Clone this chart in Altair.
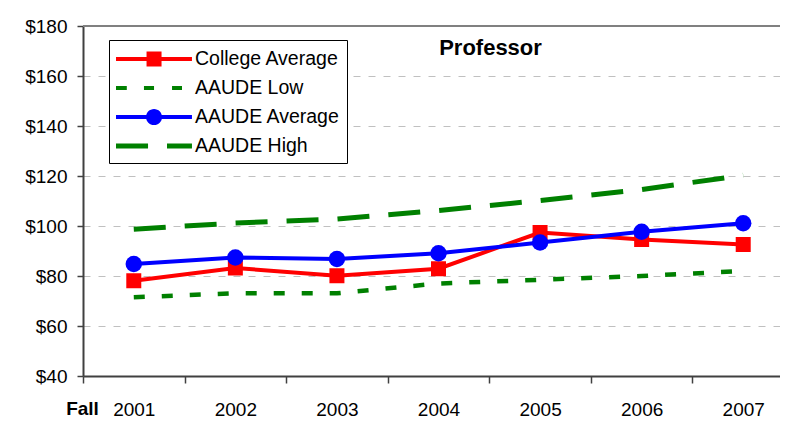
import altair as alt
import pandas as pd

years = ["2001", "2002", "2003", "2004", "2005", "2006", "2007"]
college_avg = [78.1, 83.2, 80.1, 82.9, 97.4, 94.6, 92.6]
aaude_low = [71.5, 73.1, 73.1, 77.0, 78.5, 80.0, 82.0]
aaude_avg = [84.8, 87.4, 86.8, 89.1, 93.4, 97.7, 101.1]
aaude_high = [98.7, 101.2, 102.8, 106.2, 110.2, 114.6, 120.3]

series_names = ["College Average", "AAUDE Low", "AAUDE Average", "AAUDE High"]
series_colors = ["#ff0000", "#008000", "#0000ff", "#008000"]
y_ticks = [40, 60, 80, 100, 120, 140, 160, 180]

rows = []
for name, vals in zip(series_names, [college_avg, aaude_low, aaude_avg, aaude_high]):
    for yr, v in zip(years, vals):
        rows.append({"year": yr, "series": name, "value": v})
df = pd.DataFrame(rows)

# legend glyphs (filled paths in symbol units)
legend_paths = [
    "M-1,-0.17H5.33V0.17H-1Z M1.545,-0.625H2.795V0.625H1.545Z",
    "M-1,-0.17H-0.1V0.17H-1Z M1.33,-0.17H2.17V0.17H1.33Z M3.67,-0.17H4.5V0.17H3.67Z",
    "M-1,-0.17H5.33V0.17H-1Z M2.84,0A0.67,0.67 0 1,1 1.5,0A0.67,0.67 0 1,1 2.84,0Z",
    "M-1,-0.21H1.67V0.21H-1Z M3.25,-0.21H5.33V0.21H3.25Z",
]

FONT = "Liberation Sans"

x_enc = alt.X(
    "year:N",
    scale=alt.Scale(type="band", range=[0, 711], paddingInner=0, paddingOuter=0),
    axis=alt.Axis(
        title="Fall", titleFontWeight="bold", titleFontSize=19, titleFont=FONT,
        titleX=-1, titleY=32, titleAlign="center", titleBaseline="middle", titleAngle=0,
        labelAngle=0, labelFontSize=19, labelFont=FONT, labelColor="black", labelPadding=17,
        tickBand="extent", tickSize=7, tickColor="#404040", tickWidth=1.5,
        domainColor="#404040", domainWidth=2, grid=False,
    ),
)
y_enc = alt.Y(
    "value:Q",
    scale=alt.Scale(domain=[40, 180], nice=False, zero=False),
    axis=alt.Axis(
        values=y_ticks, labelExpr="'$' + datum.value", title=None,
        labelFontSize=19, labelFont=FONT, labelColor="black", labelPadding=10,
        tickSize=6, tickColor="#404040", tickWidth=1.5,
        domainColor="#404040", domainWidth=2,
        grid=True, gridColor="#c0c0c0", gridDash=[7, 8], gridWidth=1,
    ),
)

base = alt.Chart(df)

top_rule = base.mark_rule(color="#808080", strokeWidth=2).encode(y=alt.datum(180))


def sel(name):
    return base.transform_filter(alt.datum.series == name)


low_line = sel("AAUDE Low").mark_line(color="#008000", strokeWidth=4.5, strokeDash=[11, 17]).encode(x=x_enc, y=y_enc)
high_line = sel("AAUDE High").mark_line(color="#008000", strokeWidth=5, strokeDash=[32, 19]).encode(x=x_enc, y=y_enc)
col_line = sel("College Average").mark_line(color="#ff0000", strokeWidth=4).encode(x=x_enc, y=y_enc)
col_pts = sel("College Average").mark_point(shape="square", filled=True, size=225, color="#ff0000", opacity=1).encode(x=x_enc, y=y_enc)
avg_line = sel("AAUDE Average").mark_line(color="#0000ff", strokeWidth=4).encode(x=x_enc, y=y_enc)
avg_pts = sel("AAUDE Average").mark_point(shape="circle", filled=True, size=270, color="#0000ff", opacity=1).encode(x=x_enc, y=y_enc)

legend_layer = base.transform_filter("false").mark_point(filled=True, opacity=1, size=576, strokeWidth=0).encode(
    color=alt.Color("series:N", scale=alt.Scale(domain=series_names, range=series_colors), legend=alt.Legend(title=None)),
    shape=alt.Shape("series:N", scale=alt.Scale(domain=series_names, range=legend_paths), legend=alt.Legend(title=None)),
)

chart = alt.layer(
    top_rule, low_line, high_line, col_line, col_pts, avg_line, avg_pts, legend_layer
).properties(
    width=697, height=350,
    padding={"left": 75, "top": 18, "right": 0, "bottom": 45},
    autosize=alt.AutoSizeParams(type="none"),
    title=alt.TitleParams(
        text="Professor", font=FONT, fontSize=22, fontWeight="bold", color="black",
        anchor="middle", frame="group", dx=59, dy=43, offset=0,
    ),
).configure_view(stroke=None).configure_legend(
    orient="none", legendX=26, legendY=14, strokeColor="black", fillColor="white",
    padding=7, labelFont=FONT, labelFontSize=19.5, labelColor="black", labelOffset=55,
    symbolSize=576, rowPadding=7, labelLimit=400, symbolStrokeWidth=0, symbolOpacity=1,
    cornerRadius=0,
)

chart.save("out.html", embed_options={"renderer": "svg", "actions": False})
